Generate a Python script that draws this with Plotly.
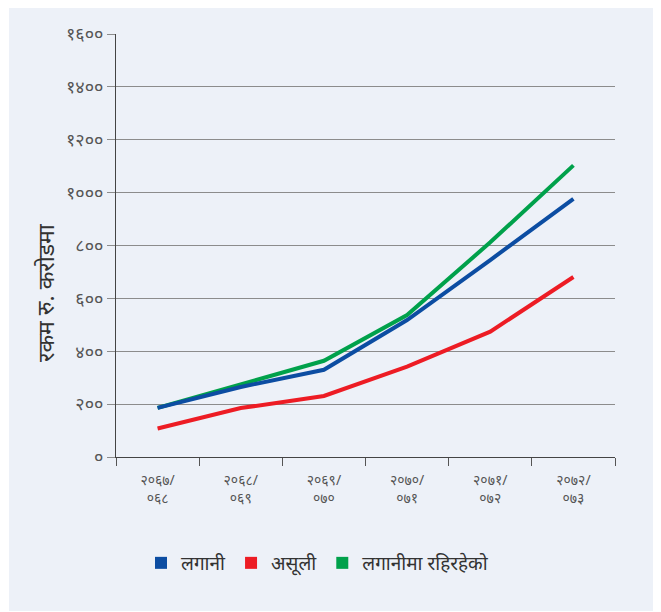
import plotly.graph_objects as go

categories = ["२०६७/<br>०६८", "२०६८/<br>०६९", "२०६९/<br>०७०", "२०७०/<br>०७१", "२०७१/<br>०७२", "२०७२/<br>०७३"]
lagani = [186, 265, 330, 518, 745, 976]
asuli = [108, 185, 231, 342, 474, 681]
rahireheko = [186, 275, 364, 537, 812, 1103]
series_names = ["लगानी", "असूली", "लगानीमा रहिरहेको"]
series_colors = ["#0c4da2", "#ed1c24", "#00a14b"]
y_tickvals = [0, 200, 400, 600, 800, 1000, 1200, 1400, 1600]
y_ticktext = ["०", "२००", "४००", "६००", "८००", "१०००", "१२००", "१४००", "१६००"]
y_title = "रकम रु. करोडमा"

panel = "#edf1f8"
font_family = "Noto Sans, DejaVu Sans, sans-serif"

# page offset of 8px (body margin)
L, T, R, B = 108, 26, 607, 449
PW, PH = R - L, B - T

def px(xp):
    return (xp - 8 - L) / PW

def py(yp):
    return (B - (yp - 8)) / PH

fig = go.Figure()
for vals, name, col in [(rahireheko, series_names[2], series_colors[2]),
                        (lagani, series_names[0], series_colors[0]),
                        (asuli, series_names[1], series_colors[1])]:
    fig.add_trace(go.Scatter(x=categories, y=vals, mode="lines", name=name,
                             line=dict(color=col, width=4), showlegend=False))

for name, col in zip(series_names, series_colors):
    fig.add_trace(go.Scatter(x=[None], y=[None], mode="markers", name=name,
                             marker=dict(symbol="square", size=12, color=col)))

fig.update_layout(
    width=661, height=612,
    margin=dict(l=L, r=661 - R, t=T, b=612 - B),
    paper_bgcolor="white",
    plot_bgcolor=panel,
    font=dict(family=font_family, color="#555555"),
    showlegend=True,
    legend=dict(orientation="h", x=px(141), xanchor="left", y=py(563), yanchor="middle",
                font=dict(size=19, color="#333333"), bgcolor="rgba(0,0,0,0)",
                itemwidth=30, tracegroupgap=0),
    shapes=[dict(type="rect", xref="paper", yref="paper",
                 x0=px(9), x1=px(700),
                 y0=py(611), y1=py(0),
                 fillcolor=panel, line=dict(width=0), layer="below")],
    annotations=[dict(text=y_title, xref="paper", yref="paper",
                      x=px(45), y=py(293), xanchor="center", yanchor="middle",
                      textangle=-90, showarrow=False,
                      font=dict(size=23, color="#333333"))],
)

fig.update_xaxes(type="category", range=[-0.5, 5.5], tickson="boundaries",
                 showgrid=False, showline=True, linecolor="#444444", linewidth=1,
                 ticks="outside", ticklen=8, tickcolor="#555555",
                 ticklabelstandoff=10,
                 tickfont=dict(size=14, color="#555555"), zeroline=False)
fig.update_yaxes(range=[0, 1600], tickvals=y_tickvals, ticktext=y_ticktext,
                 showgrid=True, gridcolor="#8c8c8c", gridwidth=1,
                 showline=True, linecolor="#444444", linewidth=1,
                 ticks="outside", ticklen=8, tickcolor="#8c8c8c",
                 tickfont=dict(size=18, color="#555555"), zeroline=False)

fig.write_html("out.html")
